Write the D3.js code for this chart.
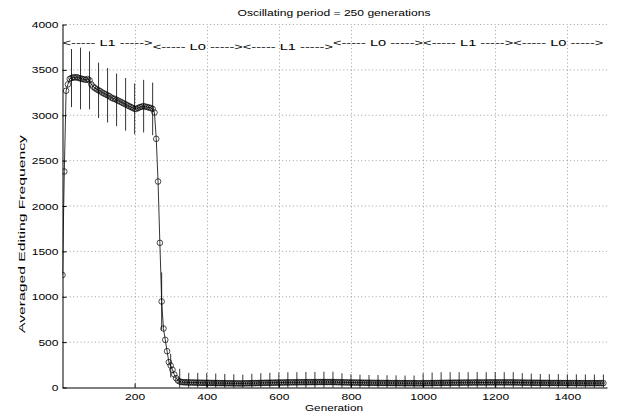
<!DOCTYPE html>
<html>
<head>
<meta charset="utf-8">
<script src="https://cdn.jsdelivr.net/npm/d3@7"></script>
<style>
    body { margin: 0; background: #fff; }
    text { font-family: Arial, "Liberation Sans", Helvetica, sans-serif; fill: #000; }
</style>
</head>
<body>
<div id="graph"></div>
<script>
// averaged editing frequency, one value every 5 generations (gen 0 .. 1500)
const genStep = 5;
const freqL1first = [1240, 2380, 3270, 3340, 3400, 3410, 3420, 3415, 3420, 3410,
    3405, 3400, 3395, 3390, 3400, 3385, 3340, 3315, 3300, 3285,
    3275, 3265, 3250, 3240, 3230, 3220, 3210, 3195, 3185, 3180,
    3170, 3160, 3150, 3140, 3130, 3120, 3110, 3100, 3090, 3080,
    3070, 3070, 3080, 3090, 3095, 3100, 3095, 3090, 3085, 3080];
const freqL0first = [3070, 3030, 2740, 2270, 1594, 948, 650, 525, 400, 279,
    242, 195, 143, 103, 77, 66, 60, 58, 57, 56,
    56, 55, 55, 54, 54, 53, 53, 52, 52, 52,
    51, 51, 50, 50, 50, 49, 49, 49, 48, 48,
    48, 47, 47, 47, 46, 46, 46, 46, 45, 45];
const freqL1second = [45, 46, 46, 47, 47, 48, 48, 49, 49, 50,
    50, 51, 51, 52, 52, 52, 53, 53, 54, 54,
    54, 55, 55, 55, 56, 56, 56, 57, 57, 57,
    57, 58, 58, 58, 58, 58, 59, 59, 59, 59,
    59, 59, 60, 60, 60, 60, 60, 60, 60, 60];
const freqL0second = [60, 59, 59, 58, 58, 57, 57, 56, 56, 55,
    55, 55, 54, 54, 54, 53, 53, 53, 52, 52,
    52, 52, 51, 51, 51, 51, 50, 50, 50, 50,
    50, 50, 49, 49, 49, 49, 49, 49, 48, 48,
    48, 48, 48, 48, 48, 48, 47, 47, 47, 47];
const freqL1third = [47, 48, 48, 48, 49, 49, 49, 50, 50, 50,
    51, 51, 51, 52, 52, 52, 52, 53, 53, 53,
    53, 53, 54, 54, 54, 54, 54, 54, 55, 55,
    55, 55, 55, 55, 55, 55, 56, 56, 56, 56,
    56, 56, 56, 56, 56, 56, 56, 56, 56, 56];
const freqL0third = [56, 55, 55, 55, 54, 54, 54, 53, 53, 53,
    53, 52, 52, 52, 52, 51, 51, 51, 51, 51,
    50, 50, 50, 50, 50, 50, 50, 49, 49, 49,
    49, 49, 49, 49, 49, 49, 49, 48, 48, 48,
    48, 48, 48, 48, 48, 48, 48, 48, 48, 48,
    48];

// half length of the error bars, one every 25 generations (25 .. 1500)
const errStep = 25;
const errHalf = [320, 340, 320, 305, 300, 290, 290, 280, 290, 290,
    320, 130, 140, 105, 108, 108, 105, 102, 100, 97,
    103, 108, 110, 110, 112, 112, 113, 113, 114, 114,
    100, 92, 88, 86, 86, 85, 85, 84, 84, 110,
    116, 118, 117, 116, 115, 115, 114, 114, 113, 113,
    104, 100, 98, 97, 97, 96, 96, 95, 95, 95];

const xTicks = [200, 400, 600, 800, 1000, 1200, 1400];
const yTicks = [0, 500, 1000, 1500, 2000, 2500, 3000, 3500, 4000];

// oscillating environment annotations
const periodLabels = ["L1", "L0", "L1", "L0", "L1", "L0"];
const periodStart = [0, 250, 500, 750, 1000, 1250];
const periodLength = 250;
const labelLevel = [3800, 3755, 3760, 3795, 3795, 3795];

const titleText = "Oscillating period = 250 generations";
const xLabel = "Generation";
const yLabel = "Averaged Editing Frequency";

(function () {
    let width = 622, height = 417;
    let digitW = 6.7;   // the figure's fonts are a bit wide, so text is stretched

    let svg = d3.select("#graph")
        .append("svg")
        .attr("width", width)
        .attr("height", height);

    let x = d3.scaleLinear().domain([0, 1510]).range([62.5, 607]);
    let y = d3.scaleLinear().domain([0, 4000]).range([387.5, 24.5]);

    let freq = [].concat(freqL1first, freqL0first, freqL1second, freqL0second, freqL1third, freqL0third);
    let points = freq.map((v, i) => ({ gen: i * genStep, v: v }));
    let bars = errHalf.map((h, i) => {
        let gen = (i + 1) * errStep;
        return { gen: gen, v: freq[gen / genStep], h: h };
    });

    svg.append("defs").append("clipPath")
        .attr("id", "plotclip")
        .append("rect")
        .attr("x", x.range()[0])
        .attr("y", y.range()[1])
        .attr("width", x.range()[1] - x.range()[0])
        .attr("height", y.range()[0] - y.range()[1]);

    // dotted grid
    let grid = svg.append("g")
        .attr("stroke", "#777")
        .attr("stroke-width", 0.7)
        .attr("stroke-dasharray", "1,2.6");
    grid.selectAll("line.gx")
        .data(xTicks)
        .join("line")
        .attr("class", "gx")
        .attr("x1", d => Math.round(x(d)) + 0.5)
        .attr("x2", d => Math.round(x(d)) + 0.5)
        .attr("y1", y(0))
        .attr("y2", y(4000));
    grid.selectAll("line.gy")
        .data(yTicks.filter(d => d > 0))
        .join("line")
        .attr("class", "gy")
        .attr("x1", x.range()[0])
        .attr("x2", x.range()[1])
        .attr("y1", d => y(d))
        .attr("y2", d => y(d));

    let plot = svg.append("g").attr("clip-path", "url(#plotclip)");

    // error bars
    plot.append("g")
        .attr("stroke", "#000")
        .attr("stroke-width", 0.8)
        .selectAll("line")
        .data(bars)
        .join("line")
        .attr("x1", d => x(d.gen))
        .attr("x2", d => x(d.gen))
        .attr("y1", d => y(d.v + d.h))
        .attr("y2", d => y(d.v - d.h));

    // mean line and markers
    plot.append("path")
        .datum(points)
        .attr("fill", "none")
        .attr("stroke", "#000")
        .attr("stroke-width", 0.8)
        .attr("d", d3.line().x(d => x(d.gen)).y(d => y(d.v)));

    plot.append("g")
        .selectAll("circle")
        .data(points)
        .join("circle")
        .attr("cx", d => x(d.gen))
        .attr("cy", d => y(d.v))
        .attr("r", 2.8)
        .attr("fill", "none")
        .attr("stroke", "#000")
        .attr("stroke-width", 0.7);

    // axes, ticks pointing inward
    let xAxis = svg.append("g")
        .attr("transform", `translate(0, ${y(0)})`)
        .call(d3.axisBottom(x).tickValues(xTicks).tickFormat(d3.format("d"))
            .tickSize(-4).tickSizeOuter(0).tickPadding(6));
    let yAxis = svg.append("g")
        .attr("transform", `translate(${x.range()[0]}, 0)`)
        .call(d3.axisLeft(y).tickValues(yTicks).tickFormat(d3.format("d"))
            .tickSize(-4).tickSizeOuter(0).tickPadding(4));
    [xAxis, yAxis].forEach(function (a) {
        a.selectAll("path, line").attr("stroke", "#000").attr("stroke-width", 1);
        a.selectAll("text")
            .style("font-size", "9.5px")
            .style("font-family", "Arial, 'Liberation Sans', sans-serif")
            .attr("fill", "#000")
            .attr("textLength", d => String(d).length * digitW)
            .attr("lengthAdjust", "spacingAndGlyphs");
    });

    // period annotations stretched over their 250 generations
    svg.append("g")
        .selectAll("text")
        .data(periodLabels)
        .join("text")
        .attr("x", (d, i) => x(periodStart[i]))
        .attr("y", (d, i) => y(labelLevel[i]))
        .attr("dy", "0.35em")
        .attr("textLength", (d, i) => x(periodStart[i] + periodLength) - x(periodStart[i]))
        .attr("lengthAdjust", "spacingAndGlyphs")
        .style("font-size", "9.5px")
        .text(d => "<----- " + d + " ----->");

    svg.append("text")
        .attr("x", 334)
        .attr("y", 16)
        .attr("text-anchor", "middle")
        .attr("textLength", 193)
        .attr("lengthAdjust", "spacingAndGlyphs")
        .style("font-size", "9.5px")
        .text(titleText);

    svg.append("text")
        .attr("x", 334)
        .attr("y", 411)
        .attr("text-anchor", "middle")
        .attr("textLength", 58)
        .attr("lengthAdjust", "spacingAndGlyphs")
        .style("font-size", "9.5px")
        .text(xLabel);

    svg.append("text")
        .attr("transform", "translate(25, 234) rotate(-90)")
        .attr("text-anchor", "middle")
        .attr("textLength", 198)
        .attr("lengthAdjust", "spacingAndGlyphs")
        .style("font-size", "9.5px")
        .text(yLabel);
})();
</script>
</body>
</html>
